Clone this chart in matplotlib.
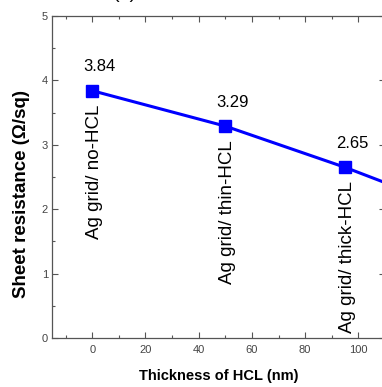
import matplotlib
matplotlib.use('Agg')
import matplotlib.pyplot as plt
from matplotlib.ticker import MultipleLocator

# data
thickness = [0, 50, 95, 150]          # nm (last point lies beyond the visible frame)
resistance = [3.84, 3.29, 2.65, 1.78]  # ohm/sq
labels = ['Ag grid/ no-HCL', 'Ag grid/ thin-HCL', 'Ag grid/ thick-HCL']
value_text = ['3.84', '3.29', '2.65']

plt.rcParams['font.family'] = ['Liberation Sans', 'DejaVu Sans']

W, H = 382, 387
fig = plt.figure(figsize=(W / 100, H / 100), dpi=100)
# axes runs past the right edge of the picture, as in the reference crop
ax = fig.add_axes([52.3 / W, (H - 338) / H, (385 - 52.3) / W, (338 - 16) / H])

ax.plot(thickness, resistance, color='#0000ff', lw=2.2, marker='s', ms=8.6,
        mec='#0000ff', mfc='#0000ff', zorder=3)

for x, y, lab, vt in zip(thickness, resistance, labels, value_text):
    ax.annotate(vt, (x, y), xytext=(7, 24), textcoords='offset pixels',
                ha='center', va='center', fontsize=12)
    ax.annotate(lab, (x, y), xytext=(2, -14), textcoords='offset pixels',
                ha='center', va='top', rotation=90, fontsize=13.5)

ax.set_xlim(-15, 110)
ax.set_ylim(0, 5)
ax.xaxis.set_major_locator(MultipleLocator(20))
ax.xaxis.set_minor_locator(MultipleLocator(10))
ax.yaxis.set_major_locator(MultipleLocator(1))
ax.yaxis.set_minor_locator(MultipleLocator(0.5))

grey = '#555555'
for s in ax.spines.values():
    s.set_color(grey)
    s.set_linewidth(0.9)
ax.tick_params(which='both', direction='in', top=True, right=True,
               colors=grey, labelcolor='#444444', labelsize=8)
ax.tick_params(which='major', length=4.5, width=0.8)
ax.tick_params(which='minor', length=2.5, width=0.8)
ax.tick_params(axis='x', pad=5)
ax.tick_params(axis='y', pad=3)

ax.set_xlabel('Thickness of HCL (nm)', fontsize=10.5, fontweight='bold', va='center')
ax.xaxis.set_label_coords(0.501, -0.118)
ax.set_ylabel('Sheet resistance (\u03a9/sq)', fontsize=13.5, fontweight='bold', va='center')
ax.yaxis.set_label_coords(-0.093, 0.447)

fig.text(125 / W, 1 + 2 / H, '(a)', ha='center', va='baseline', fontsize=14)

fig.savefig('out.png', dpi=100)
